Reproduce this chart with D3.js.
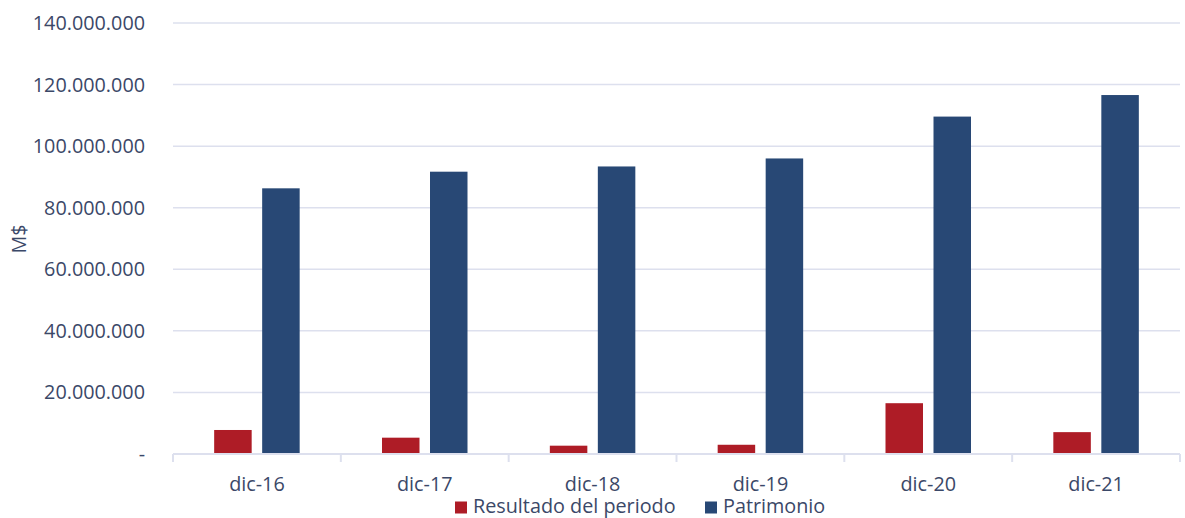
<!DOCTYPE html>
<html><head><meta charset="utf-8">
<script src="https://cdn.jsdelivr.net/npm/d3@7"></script>
<style>body{margin:0;background:#fff}svg{display:block}text{font-family:"Open Sans","Noto Sans",sans-serif;fill:#3b4868}</style>
</head><body><svg id="c" width="1185" height="518"></svg>
<script>
const categories = ["dic-16","dic-17","dic-18","dic-19","dic-20","dic-21"];
const resultado = [7800000, 5300000, 2700000, 3000000, 16500000, 7100000];
const patrimonio = [86300000, 91700000, 93400000, 96000000, 109600000, 116600000];
const yTicks = [0, 20000000, 40000000, 60000000, 80000000, 100000000, 120000000, 140000000];
const seriesNames = ["Resultado del periodo", "Patrimonio"];
const colors = ["#AE1C26", "#284875"];

const svg = d3.select("#c");
const L = 173, R = 1180, T = 23, B = 454;
const FS = 19.8;
const x = d3.scaleBand().domain(categories).range([L, R]);
const y = d3.scaleLinear().domain([0, 140000000]).range([B, T]);
const fmt = v => v === 0 ? "-" : d3.format(",")(v).replace(/,/g, ".");

// gridlines
svg.append("g").selectAll("line").data(yTicks.slice(1)).join("line")
  .attr("x1", L).attr("x2", R).attr("y1", d => y(d)).attr("y2", d => y(d))
  .attr("stroke", "#dde0ee").attr("stroke-width", 1.5);

// y labels
svg.append("g").selectAll("text").data(yTicks).join("text")
  .attr("x", 145).attr("y", d => y(d)).attr("dy", "0.35em").attr("text-anchor", "end")
  .attr("font-size", FS).text(fmt);

// bars
const bw = 37.5, gap = 10.5;
const series = [resultado, patrimonio];
series.forEach((vals, si) => {
  svg.append("g").selectAll("rect").data(categories).join("rect")
    .attr("x", d => x(d) + x.bandwidth() / 2 - bw - gap / 2 + si * (bw + gap))
    .attr("width", bw)
    .attr("y", (d, i) => y(vals[i]))
    .attr("height", (d, i) => B - y(vals[i]))
    .attr("fill", colors[si]);
});

// x axis
const xa = svg.append("g").attr("transform", `translate(0,${B})`)
  .call(d3.axisBottom(x).tickSize(0).tickPadding(0));
xa.select(".domain").remove();
xa.append("line").attr("x1", L).attr("x2", R).attr("y1", 0).attr("y2", 0).attr("stroke", "#dde0ee").attr("stroke-width", 2);
const bounds = categories.map(c => x(c)).concat([R]);
xa.selectAll(".bt").data(bounds).join("line").attr("class", "bt")
  .attr("x1", d => d).attr("x2", d => d).attr("y1", 0).attr("y2", 8)
  .attr("stroke", "#dde0ee").attr("stroke-width", 2);
xa.selectAll(".tick text").attr("y", 37).attr("dy", 0)
  .attr("font-size", FS).attr("font-family", "'Open Sans','Noto Sans',sans-serif").attr("fill", "#3b4868");

// y title
svg.append("text").attr("transform", "translate(26,239) rotate(-90)")
  .attr("text-anchor", "middle").attr("font-size", FS).text("M$");

// legend
const leg = svg.append("g");
const legX = [455, 705];
seriesNames.forEach((n, i) => {
  leg.append("rect").attr("x", legX[i]).attr("y", 501.5).attr("width", 12).attr("height", 12).attr("fill", colors[i]);
  leg.append("text").attr("x", legX[i] + 18).attr("y", 513).attr("font-size", FS).text(n);
});
</script></body></html>
